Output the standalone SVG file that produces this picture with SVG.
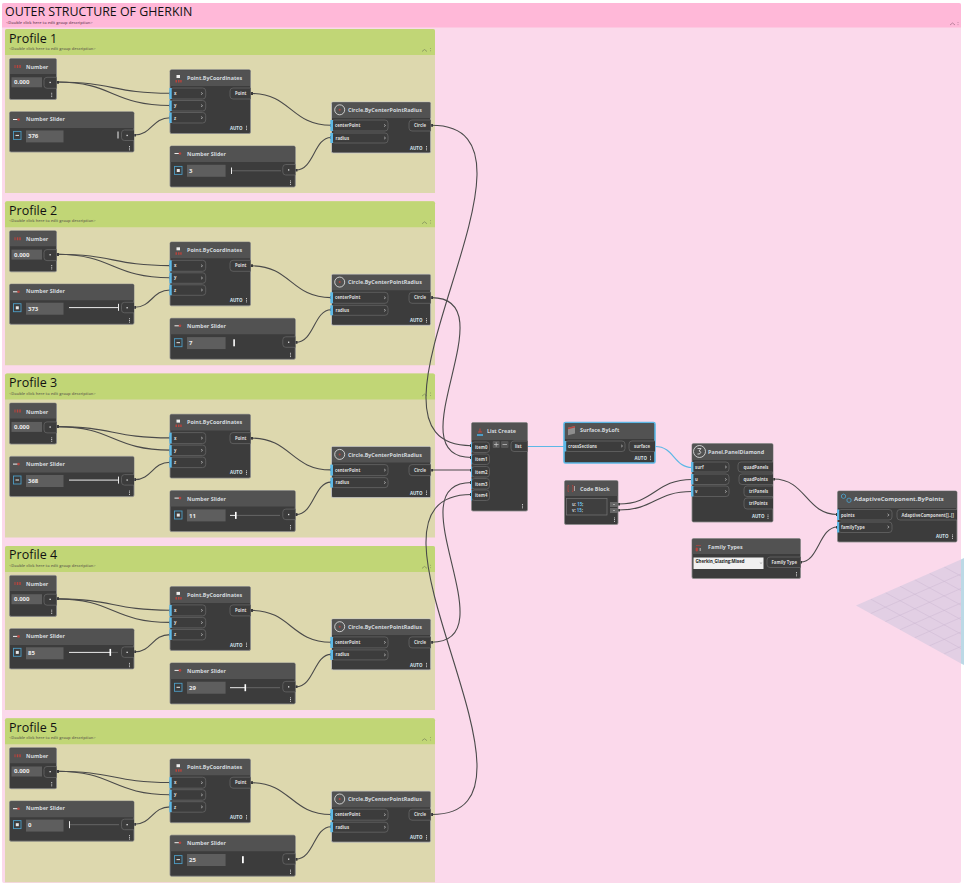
<svg xmlns="http://www.w3.org/2000/svg" xmlns:xlink="http://www.w3.org/1999/xlink" width="964" height="883" viewBox="0 0 964 883">
<style>
text{font-family:"Open Sans","Liberation Sans",sans-serif}
.body{fill:#3c3c3c;stroke:#8c8c8c;stroke-width:.8}
.head{fill:#525252}
.sel{fill:#3c3c3c;stroke:#5cb8e6;stroke-width:1.6}
.pill{fill:#3c3c3c;stroke:#6a6a6a;stroke-width:.7}
.bar{fill:#5cb8e6}
.chev{fill:none;stroke:#cfcfcf;stroke-width:.6}
.grip{stroke:#d8d8d8;stroke-width:1;stroke-dasharray:.9 .8;fill:none}
.wire{fill:none;stroke:#4a4a4a;stroke-width:1.1;marker-start:url(#dot);marker-end:url(#dot)}
.wireb{fill:none;stroke:#5cb8e6;stroke-width:1.2}
.t{fill:#d4d9de;font-size:5.4px;font-weight:700}
.p{fill:#dcdcdc;font-size:4.3px;font-weight:700}
.a{fill:#d8e4ee;font-size:4.4px;font-weight:700}
.v{fill:#ececec;font-size:6px;font-weight:700}
.box{fill:#5e5e5e}
.mini{fill:none;stroke:#4d9cc4;stroke-width:.9}
.gt{fill:#111;font-size:12.500px}
.gs{fill:#6b6b50;font-size:4px;font-weight:600}
.gi{fill:none;stroke:#6f7a55;stroke-width:.6}
.trk{stroke:#777;stroke-width:.7}
.on{stroke:#fff;stroke-width:.9}
.thumb{fill:#fff}
.dotw{fill:#e6e6e6}
.red{fill:#b5443e}
.icon{fill:none;stroke:#e8e8e8;stroke-width:.8}
</style>
<defs>
<marker id="dot" markerWidth="3" markerHeight="3" refX="1.5" refY="1.5" markerUnits="userSpaceOnUse"><rect width="3" height="3" fill="#3a3a3a"/></marker>
<path id="grip" class="grip" d="M0 0V4.6"/>
<path id="chev" class="chev" d="M0 -1.2L1.6 0L0 1.2"/>
<g id="gbody"><path class="gi" d="M422 51.5l2.5-2 2.5 2M430.5 48v.8M430.5 50.4v.8"/></g>
<g id="b-number">
<rect class="body" x="9.500" y="58.500" width="47" height="41" rx="1.500"/>
<path class="head" d="M10 59H56V74H10Z"/>
<rect class="box" x="11.500" y="77.300" width="30.500" height="10"/>
<path class="pill" d="M56.500 77.300H47a3 3 0 0 0-3 3v5a3 3 0 0 0 3 3H56.500"/>
<rect class="dotw" x="49.500" y="81.800" width="1.300" height="1.300"/>
<use href="#grip" x="51.700" y="92.800"/>
<path class="red" d="M14.500 65h1v3h-1zM16.800 65h1.500v3h-1.500zM19.300 65h1.500v3h-1.500z"/>
</g>
<g id="b-slider1">
<rect class="body" x="9.500" y="111.800" width="124.500" height="40.200" rx="1.500"/>
<path class="head" d="M10 112.300H133.600V128H10Z"/>
<path class="on" d="M13 119.500H19"/><circle class="red" cx="18.500" cy="119.500" r="1.300"/>
<rect class="box" x="26" y="130.400" width="37.500" height="12"/>
<path class="pill" d="M134 130H124.500a3 3 0 0 0-3 3v4.500a3 3 0 0 0 3 3H134"/>
<rect class="dotw" x="126.500" y="134.800" width="1.300" height="1.300"/>
<use href="#grip" x="129.500" y="146"/>
</g>
<g id="b-slider2">
<rect class="body" x="170" y="146" width="125.300" height="41" rx="1.500"/>
<path class="head" d="M170.500 146.500H294.900V162H170.500Z"/>
<path class="on" d="M174.500 153.500H180.500"/><circle class="red" cx="180" cy="153.500" r="1.300"/>
<rect class="box" x="187" y="164.800" width="38.600" height="12"/>
<path class="pill" d="M295.300 164.500H285.800a3 3 0 0 0-3 3v4.500a3 3 0 0 0 3 3H295.300"/>
<rect class="dotw" x="288" y="169.300" width="1.300" height="1.300"/>
<use href="#grip" x="290.500" y="180.500"/>
</g>
<g id="b-point">
<rect class="body" x="170" y="69.700" width="80.500" height="63.800" rx="1.500"/>
<path class="head" d="M170.500 70.200H250V86H170.500Z"/>
<rect x="176.500" y="75" width="3.500" height="3" fill="#eee"/>
<path class="red" d="M175.500 80h1.500v2.500h-1.500zM178 80h1.500v2.500h-1.500zM180.200 80h1.500v2.500h-1.500z"/>
<rect class="pill" x="170" y="88" width="35.700" height="11" rx="3"/><rect class="pill" x="170" y="100.500" width="35.700" height="10.500" rx="3"/><rect class="pill" x="170" y="112.500" width="35.700" height="10.500" rx="3"/>
<rect class="bar" x="169.300" y="88" width="2.400" height="11"/><rect class="bar" x="169.300" y="100.500" width="2.400" height="10.500"/><rect class="bar" x="169.300" y="112.500" width="2.400" height="10.500"/>
<use href="#chev" x="201" y="93.500"/><use href="#chev" x="201" y="105.700"/><use href="#chev" x="201" y="117.700"/>
<path class="pill" d="M250.500 88H233a3 3 0 0 0-3 3v5a3 3 0 0 0 3 3H250.500"/>
<use href="#grip" x="246.500" y="125.800"/>
</g>
<g id="b-circle">
<rect class="body" x="331.500" y="102" width="99.200" height="51" rx="1.500" style="stroke:#c8c8c8"/>
<path class="head" d="M332 102.500H430.300V118H332Z"/>
<circle class="icon" cx="339.700" cy="109.800" r="5"/><circle class="red" cx="339.700" cy="109.800" r="1"/>
<rect class="pill" x="331.500" y="120" width="56.500" height="11" rx="3"/><rect class="pill" x="331.500" y="133" width="56.500" height="10" rx="3"/>
<rect class="bar" x="330.300" y="120" width="2.700" height="11"/><rect class="bar" x="330.300" y="133" width="2.700" height="10"/>
<use href="#chev" x="384" y="125.500"/><use href="#chev" x="384" y="138"/>
<path class="pill" d="M430.700 120H412a3 3 0 0 0-3 3v5a3 3 0 0 0 3 3H430.700"/>
<use href="#grip" x="426.500" y="146"/>
</g>
<g id="wires-profile">
<path class="wire" d="M57.500 82C113 82 113 93.300 170 93.300"/>
<path class="wire" d="M57.500 82C113 82 113 105.500 170 105.500"/>
<path class="wire" d="M134.500 135C152 135 152 117.700 170 117.700"/>
<path class="wire" d="M251.500 93.500C291 93.500 291 125.300 331 125.300"/>
<path class="wire" d="M296 170C314 170 314 137.500 331 137.500"/>
</g>
<clipPath id="surf"><path d="M856 605.500L961 559.500V663.500Z"/></clipPath>
</defs>

<rect width="964" height="883" fill="#fff"/>
<g id="group-outer">
<rect x="2" y="3" width="959" height="880" rx="2" fill="#fbd9eb"/>
<path d="M2 5a2 2 0 0 1 2-2H959a2 2 0 0 1 2 2V27.500H2Z" fill="#ffb8d8"/>
<text x="5" y="16" font-size="12.400" fill="#111">OUTER STRUCTURE OF GHERKIN</text>
<text class="gs" x="6" y="24" style="fill:#7a4a66">&lt;Double click here to edit group description&gt;</text>
<path class="gi" d="M950 25l2.500-2 2.500 2M958 22v.8M958 24.300v.8" style="stroke:#8a5a74"/>
</g>
<g id="group-profile-1">
<path d="M5 31a2 2 0 0 1 2-2H433a2 2 0 0 1 2 2V193H5Z" fill="#ddd8ae"/><path d="M5 31a2 2 0 0 1 2-2H433a2 2 0 0 1 2 2V55H5Z" fill="#c1d676"/>
<text class="gt" x="9" y="42.500">Profile 1</text><text class="gs" x="9" y="50">&lt;Double click here to edit group description&gt;</text><use href="#gbody"/>
</g>
<g id="group-profile-2" transform="translate(0,172.300)">
<path d="M5 31a2 2 0 0 1 2-2H433a2 2 0 0 1 2 2V193H5Z" fill="#ddd8ae"/><path d="M5 31a2 2 0 0 1 2-2H433a2 2 0 0 1 2 2V55H5Z" fill="#c1d676"/>
<text class="gt" x="9" y="42.500">Profile 2</text><text class="gs" x="9" y="50">&lt;Double click here to edit group description&gt;</text><use href="#gbody"/>
</g>
<g id="group-profile-3" transform="translate(0,344.600)">
<path d="M5 31a2 2 0 0 1 2-2H433a2 2 0 0 1 2 2V193H5Z" fill="#ddd8ae"/><path d="M5 31a2 2 0 0 1 2-2H433a2 2 0 0 1 2 2V55H5Z" fill="#c1d676"/>
<text class="gt" x="9" y="42.500">Profile 3</text><text class="gs" x="9" y="50">&lt;Double click here to edit group description&gt;</text><use href="#gbody"/>
</g>
<g id="group-profile-4" transform="translate(0,516.900)">
<path d="M5 31a2 2 0 0 1 2-2H433a2 2 0 0 1 2 2V193H5Z" fill="#ddd8ae"/><path d="M5 31a2 2 0 0 1 2-2H433a2 2 0 0 1 2 2V55H5Z" fill="#c1d676"/>
<text class="gt" x="9" y="42.500">Profile 4</text><text class="gs" x="9" y="50">&lt;Double click here to edit group description&gt;</text><use href="#gbody"/>
</g>
<g id="group-profile-5" transform="translate(0,689.200)">
<path d="M5 31a2 2 0 0 1 2-2H433a2 2 0 0 1 2 2V193H5Z" fill="#ddd8ae"/><path d="M5 31a2 2 0 0 1 2-2H433a2 2 0 0 1 2 2V55H5Z" fill="#c1d676"/>
<text class="gt" x="9" y="42.500">Profile 5</text><text class="gs" x="9" y="50">&lt;Double click here to edit group description&gt;</text><use href="#gbody"/>
</g>

<g id="surface-preview">
<path d="M856 605.500L961 559.500V663.500Z" fill="#e2cfe4"/>
<path d="M961 559.500L964 558V665L961 663.500Z" fill="#bcd9e6"/>
<g clip-path="url(#surf)" fill="none" stroke="#cdb8d3" stroke-width=".5">
<path d="M870.700 613.600l105-46M885.400 621.600l105-46M900.100 629.700l105-46M914.800 637.700l105-46M929.500 645.800l105-46M944.200 653.800l105-46"/>
<path d="M870.700 599.100l105 57.500M885.400 592.600l105 57.500M900.100 586.200l105 57.500M914.800 579.800l105 57.500M929.500 573.300l105 57.500M944.200 566.900l105 57.500"/>
</g>
</g>

<g id="connectors">
<use href="#wires-profile"/>
<use href="#wires-profile" y="172.300"/>
<use href="#wires-profile" y="344.600"/>
<use href="#wires-profile" y="516.900"/>
<use href="#wires-profile" y="689.200"/>
<path class="wire" d="M431.500 125.300C571 125.300 332 445.700 471.500 445.700"/>
<path class="wire" d="M431.500 297.600C510 297.600 393 457.500 471.500 457.500"/>
<path class="wire" d="M431.500 470H471.500"/>
<path class="wire" d="M431.500 642.200C510 642.200 393 482.500 471.500 482.500"/>
<path class="wire" d="M431.500 814.500C571 814.500 332 494.500 471.500 494.500"/>
<path class="wireb" d="M527 446.500H564"/>
<path class="wireb" d="M655.500 446.500C674 446.500 674 467.500 692 467.500"/>
<path class="wire" d="M618.500 504C655 504 655 479.500 692 479.500"/>
<path class="wire" d="M618.500 510C655 510 655 491.500 692 491.500"/>
<path class="wire" d="M773.500 479C806 479 806 514.500 837.500 514.500"/>
<path class="wire" d="M800.500 562C819 562 819 527 837.500 527"/>
</g>

<g id="p1-number"><use href="#b-number"/><text class="t" x="26" y="69">Number</text><text class="v" x="14" y="84.300">0.000</text></g>
<g id="p1-slider-a"><use href="#b-slider1"/><text class="t" x="26" y="121">Number Slider</text><rect class="mini" x="13.500" y="131.400" width="7.500" height="8"/><path class="on" d="M15.500 135.400H19"/><text class="v" x="28" y="138.300">376</text><path class="on" d="M118 131.500V138.500"/></g>
<g id="p1-point"><use href="#b-point"/><text class="t" x="187" y="79.800">Point.ByCoordinates</text><text class="p" x="174" y="95">x</text><text class="p" x="174" y="107">y</text><text class="p" x="174" y="119.500">z</text><text class="p" x="235" y="95">Point</text><text class="a" x="230" y="129.800">AUTO</text></g>
<g id="p1-slider-b"><use href="#b-slider2"/><text class="t" x="187" y="156">Number Slider</text><rect class="mini" x="174.500" y="166.400" width="7.500" height="8"/><rect x="176.800" y="169" width="3" height="3" fill="#e8e8e8"/><text class="v" x="189" y="173">3</text><path class="trk" d="M232 170.800H281"/><path class="on" d="M231.500 167.500V174"/></g>
<g id="p1-circle"><use href="#b-circle"/><text class="t" x="348" y="112">Circle.ByCenterPointRadius</text><text class="p" x="335" y="127">centerPoint</text><text class="p" x="335.500" y="139.500">radius</text><text class="p" x="414" y="127">Circle</text><text class="a" x="410" y="150">AUTO</text></g>

<g id="p2-number" transform="translate(0,172.300)"><use href="#b-number"/><text class="t" x="26" y="69">Number</text><text class="v" x="14" y="84.300">0.000</text></g>
<g id="p2-slider-a" transform="translate(0,172.300)"><use href="#b-slider1"/><text class="t" x="26" y="121">Number Slider</text><rect class="mini" x="13.500" y="131.400" width="7.500" height="8"/><rect x="15.800" y="134" width="3" height="3" fill="#e8e8e8"/><text class="v" x="28" y="138.300">373</text><path class="on" d="M69 135.300H118"/><path class="on" d="M118.500 131.500V138.500"/></g>
<g id="p2-point" transform="translate(0,172.300)"><use href="#b-point"/><text class="t" x="187" y="79.800">Point.ByCoordinates</text><text class="p" x="174" y="95">x</text><text class="p" x="174" y="107">y</text><text class="p" x="174" y="119.500">z</text><text class="p" x="235" y="95">Point</text><text class="a" x="230" y="129.800">AUTO</text></g>
<g id="p2-slider-b" transform="translate(0,172.300)"><use href="#b-slider2"/><text class="t" x="187" y="156">Number Slider</text><rect class="mini" x="174.500" y="166.400" width="7.500" height="8"/><path class="on" d="M176.500 170.400H180"/><text class="v" x="189" y="173">7</text><rect class="thumb" x="233.300" y="167" width="1.600" height="7"/></g>
<g id="p2-circle" transform="translate(0,172.300)"><use href="#b-circle"/><text class="t" x="348" y="112">Circle.ByCenterPointRadius</text><text class="p" x="335" y="127">centerPoint</text><text class="p" x="335.500" y="139.500">radius</text><text class="p" x="414" y="127">Circle</text><text class="a" x="410" y="150">AUTO</text></g>

<g id="p3-number" transform="translate(0,344.600)"><use href="#b-number"/><text class="t" x="26" y="69">Number</text><text class="v" x="14" y="84.300">0.000</text></g>
<g id="p3-slider-a" transform="translate(0,344.600)"><use href="#b-slider1"/><text class="t" x="26" y="121">Number Slider</text><rect class="mini" x="13.500" y="131.400" width="7.500" height="8"/><path class="on" d="M15.500 135.400H19"/><text class="v" x="28" y="138.300">368</text><path class="on" d="M69 135.500H118"/><path class="on" d="M118.500 132V139"/></g>
<g id="p3-point" transform="translate(0,344.600)"><use href="#b-point"/><text class="t" x="187" y="79.800">Point.ByCoordinates</text><text class="p" x="174" y="95">x</text><text class="p" x="174" y="107">y</text><text class="p" x="174" y="119.500">z</text><text class="p" x="235" y="95">Point</text><text class="a" x="230" y="129.800">AUTO</text></g>
<g id="p3-slider-b" transform="translate(0,344.600)"><use href="#b-slider2"/><text class="t" x="187" y="156">Number Slider</text><rect class="mini" x="174.500" y="166.400" width="7.500" height="8"/><rect x="176.800" y="169" width="3" height="3" fill="#e8e8e8"/><text class="v" x="189" y="173">11</text><path class="on" d="M230 170.800H236"/><path class="trk" d="M236 170.800H280"/><rect class="thumb" x="235" y="167.300" width="1.600" height="7"/></g>
<g id="p3-circle" transform="translate(0,344.600)"><use href="#b-circle"/><text class="t" x="348" y="112">Circle.ByCenterPointRadius</text><text class="p" x="335" y="127">centerPoint</text><text class="p" x="335.500" y="139.500">radius</text><text class="p" x="414" y="127">Circle</text><text class="a" x="410" y="150">AUTO</text></g>

<g id="p4-number" transform="translate(0,516.900)"><use href="#b-number"/><text class="t" x="26" y="69">Number</text><text class="v" x="14" y="84.300">0.000</text></g>
<g id="p4-slider-a" transform="translate(0,516.900)"><use href="#b-slider1"/><text class="t" x="26" y="121">Number Slider</text><rect class="mini" x="13.500" y="131.400" width="7.500" height="8"/><rect x="15.800" y="134" width="3" height="3" fill="#e8e8e8"/><text class="v" x="28" y="138.300">85</text><path class="on" d="M69 135.500H110"/><path class="trk" d="M110 135.500H118"/><rect class="thumb" x="109.500" y="132" width="1.600" height="7"/></g>
<g id="p4-point" transform="translate(0,516.900)"><use href="#b-point"/><text class="t" x="187" y="79.800">Point.ByCoordinates</text><text class="p" x="174" y="95">x</text><text class="p" x="174" y="107">y</text><text class="p" x="174" y="119.500">z</text><text class="p" x="235" y="95">Point</text><text class="a" x="230" y="129.800">AUTO</text></g>
<g id="p4-slider-b" transform="translate(0,516.900)"><use href="#b-slider2"/><text class="t" x="187" y="156">Number Slider</text><rect class="mini" x="174.500" y="166.400" width="7.500" height="8"/><path class="on" d="M176.500 170.400H180"/><text class="v" x="189" y="173">29</text><path class="on" d="M230 170.800H245"/><path class="trk" d="M245 170.800H280"/><rect class="thumb" x="244.500" y="167.300" width="1.600" height="7"/></g>
<g id="p4-circle" transform="translate(0,516.900)"><use href="#b-circle"/><text class="t" x="348" y="112">Circle.ByCenterPointRadius</text><text class="p" x="335" y="127">centerPoint</text><text class="p" x="335.500" y="139.500">radius</text><text class="p" x="414" y="127">Circle</text><text class="a" x="410" y="150">AUTO</text></g>

<g id="p5-number" transform="translate(0,689.200)"><use href="#b-number"/><text class="t" x="26" y="69">Number</text><text class="v" x="14" y="84.300">0.000</text></g>
<g id="p5-slider-a" transform="translate(0,689.200)"><use href="#b-slider1"/><text class="t" x="26" y="121">Number Slider</text><rect class="mini" x="13.500" y="131.400" width="7.500" height="8"/><rect x="15.800" y="134" width="3" height="3" fill="#e8e8e8"/><text class="v" x="28" y="138.300">0</text><path class="trk" d="M70 135.500H119"/><path class="on" d="M69.500 132V139"/></g>
<g id="p5-point" transform="translate(0,689.200)"><use href="#b-point"/><text class="t" x="187" y="79.800">Point.ByCoordinates</text><text class="p" x="174" y="95">x</text><text class="p" x="174" y="107">y</text><text class="p" x="174" y="119.500">z</text><text class="p" x="235" y="95">Point</text><text class="a" x="230" y="129.800">AUTO</text></g>
<g id="p5-slider-b" transform="translate(0,689.200)"><use href="#b-slider2"/><text class="t" x="187" y="156">Number Slider</text><rect class="mini" x="174.500" y="166.400" width="7.500" height="8"/><path class="on" d="M176.500 170.400H180"/><text class="v" x="189" y="173">25</text><rect class="thumb" x="242" y="167" width="1.800" height="7"/></g>
<g id="p5-circle" transform="translate(0,689.200)"><use href="#b-circle"/><text class="t" x="348" y="112">Circle.ByCenterPointRadius</text><text class="p" x="335" y="127">centerPoint</text><text class="p" x="335.500" y="139.500">radius</text><text class="p" x="414" y="127">Circle</text><text class="a" x="410" y="150">AUTO</text></g>

<g id="list-create">
<rect class="body" x="471.500" y="422.500" width="56" height="88.500" rx="1.500"/>
<path class="head" d="M472 423H527V440H472Z"/>
<path d="M478 431.500h1.500v-3h1v3h1.500v1h-4z" fill="#c0453d"/><rect x="477" y="434" width="6" height="2" fill="#4d9cc4"/>
<text class="t" x="487" y="432.500">List Create</text>
<rect class="pill" x="471.500" y="442" width="18" height="10.500" rx="3"/><rect class="pill" x="471.500" y="454" width="18" height="10.500" rx="3"/><rect class="pill" x="471.500" y="466.500" width="18" height="10.500" rx="3"/><rect class="pill" x="471.500" y="478.500" width="18" height="10.500" rx="3"/><rect class="pill" x="471.500" y="490" width="18" height="10.500" rx="3"/>
<path class="bar" d="M471 442h1v10.500h-1zM471 454h1v10.500h-1zM471 466.500h1v10.500h-1zM471 478.500h1v10.500h-1zM471 490h1v10.500h-1z"/>
<text class="p" x="475" y="449">item0</text><text class="p" x="475" y="461">item1</text><text class="p" x="475" y="473.500">item2</text><text class="p" x="475" y="485.500">item3</text><text class="p" x="475" y="497">item4</text>
<rect x="492.700" y="441" width="7" height="7" rx="1" fill="#5a5a5a"/><rect x="501" y="441" width="7.500" height="7" rx="1" fill="#555"/>
<path d="M494 444.500h4.500M496.200 442.300v4.400M502.500 444.500h4.500" stroke="#ccc" stroke-width=".7"/>
<path class="pill" d="M527.500 441H514a3 3 0 0 0-3 3v4.500a3 3 0 0 0 3 3H527.500"/>
<text class="p" x="515" y="448.300">list</text>
<use href="#grip" x="522.500" y="504"/>
</g>

<g id="surface-byloft">
<rect class="sel" x="564" y="422.500" width="91" height="40.500" rx="1.500"/>
<path class="head" d="M565 423.500H654V439H565Z"/>
<path d="M568 427.800l7-1.800v7.500l-7 1.800Z" fill="#8e8e8e"/><path d="M568 427.800l7-1.800v1.500l-7 1.800Z" fill="#b5443e"/>
<text class="t" x="580" y="432">Surface.ByLoft</text>
<rect class="pill" x="565" y="441" width="60" height="10.500" rx="3"/><rect class="bar" x="564" y="441" width="2.200" height="10.500"/>
<use href="#chev" x="621" y="446"/>
<text class="p" x="568" y="447.800">crossSections</text>
<path class="pill" d="M655 441H632a3 3 0 0 0-3 3v4.500a3 3 0 0 0 3 3H655"/>
<text class="p" x="634" y="447.800">surface</text>
<text class="a" x="634.500" y="459.500">AUTO</text><use href="#grip" x="650.500" y="455.800"/>
</g>

<g id="code-block">
<rect class="body" x="564.500" y="480.500" width="53.500" height="44" rx="1.500"/>
<path class="head" d="M565 481H617.500V496H565Z"/>
<path d="M569 485.500h-1v6h1M572 485.500h1v6h-1" fill="none" stroke="#b5443e" stroke-width=".8"/><path d="M574.500 486v5" stroke="#ccc" stroke-width=".7"/>
<text class="t" x="580" y="490.500">Code Block</text>
<rect x="566.500" y="498.500" width="40.500" height="16.500" fill="#3f3f3f" stroke="#777" stroke-width=".7"/>
<text class="p" x="572" y="505.500" xml:space="preserve" style="fill:#cfcfcf">u: <tspan fill="#62b8ec">15</tspan>;</text>
<text class="p" x="572" y="511.500" xml:space="preserve" style="fill:#cfcfcf">v: <tspan fill="#62b8ec">15</tspan>;</text>
<rect x="610" y="502" width="8" height="5" fill="#666"/><rect x="610" y="508" width="8" height="5" fill="#666"/>
<rect class="dotw" x="613.500" y="504" width="1" height="1"/><rect class="dotw" x="613.500" y="510" width="1" height="1"/>
<use href="#grip" x="614.500" y="517.500"/>
</g>

<g id="panel-diamond">
<rect class="body" x="692" y="443.500" width="81" height="78.500" rx="1.500"/>
<path class="head" d="M692.500 444H772.500V460H692.500Z"/>
<circle class="icon" cx="699.500" cy="451.500" r="6"/><path class="icon" d="M697.500 448.500h3.500l-2 2.500c2.500 0 2.500 3.500-1.500 3"/>
<text class="t" x="708" y="453.500">Panel.PanelDiamond</text>
<rect class="pill" x="692" y="462" width="37" height="10" rx="3"/><rect class="pill" x="692" y="474" width="37" height="10.500" rx="3"/><rect class="pill" x="692" y="486" width="37" height="10.500" rx="3"/>
<rect class="bar" x="691" y="462" width="2.400" height="10"/><rect class="bar" x="691" y="474" width="2.400" height="10.500"/><rect class="bar" x="691" y="486" width="2.400" height="10.500"/>
<use href="#chev" x="725" y="467"/><use href="#chev" x="725" y="479.500"/><use href="#chev" x="725" y="491.500"/>
<text class="p" x="695" y="468.500">surf</text><text class="p" x="695" y="480.500">u</text><text class="p" x="695" y="492.500">v</text>
<path class="pill" d="M773 462H741a3 3 0 0 0-3 3v4a3 3 0 0 0 3 3H773"/><path class="pill" d="M773 474H742a3 3 0 0 0-3 3v4.500a3 3 0 0 0 3 3H773"/><path class="pill" d="M773 486H747a3 3 0 0 0-3 3v4.500a3 3 0 0 0 3 3H773"/><path class="pill" d="M773 498H747a3 3 0 0 0-3 3v5a3 3 0 0 0 3 3H773"/>
<text class="p" x="743.500" y="468.500">quadPanels</text><text class="p" x="743.500" y="480.500">quadPoints</text><text class="p" x="749" y="492.500">triPanels</text><text class="p" x="749" y="505">triPoints</text>
<text class="a" x="752" y="518">AUTO</text><use href="#grip" x="768" y="514.500"/>
</g>

<g id="family-types">
<rect class="body" x="692" y="538.500" width="108.500" height="40" rx="1.500"/>
<path class="head" d="M692.500 539H800V554H692.500Z"/>
<path d="M696 545.500h5M696 548h1.500v3h-1.500z" stroke="#b5443e" fill="#b5443e" stroke-width=".7"/><path d="M699.500 548h1.500v3h-1.500z" fill="#999"/>
<text class="t" x="708" y="548.500">Family Types</text>
<rect x="693.500" y="557.500" width="70" height="11.500" fill="#f0f0f0"/>
<text x="695.500" y="562.800" style="fill:#222;font-size:4.300px;font-weight:700">Gherkin_Glazing:Mixed</text>
<path d="M759.800 562.500l1.200 1 1.200-1" fill="none" stroke="#888" stroke-width=".6"/>
<path class="pill" d="M800.500 557H770a3 3 0 0 0-3 3v4.500a3 3 0 0 0 3 3H800.500"/>
<text class="p" x="771.500" y="563.800">Family Type</text>
<use href="#grip" x="796.500" y="572"/>
</g>

<g id="adaptive-component">
<rect class="body" x="837.500" y="491" width="119.500" height="51" rx="1.500"/>
<path class="head" d="M838 491.500H956.500V508H838Z"/>
<path d="M841.500 495l2-1 2 1v2.500l-2 1-2-1zM847 499l2-1 2 1v2.500l-2 1-2-1z" fill="none" stroke="#4d9cc4" stroke-width=".9"/>
<text class="t" x="854" y="501" style="font-size:6px">AdaptiveComponent.ByPoints</text>
<rect class="pill" x="838" y="509.500" width="54" height="10.500" rx="3"/><rect class="pill" x="838" y="522" width="54" height="10.500" rx="3"/>
<rect class="bar" x="837" y="509.500" width="2.200" height="10.500"/><rect class="bar" x="837" y="522" width="2.200" height="10.500"/>
<use href="#chev" x="887.500" y="515"/><use href="#chev" x="887.500" y="527"/>
<text class="p" x="841" y="516.500">points</text><text class="p" x="841" y="528.500">familyType</text>
<path class="pill" d="M957 509.500H900a3 3 0 0 0-3 3v4.500a3 3 0 0 0 3 3H957"/>
<text class="p" x="901.500" y="516.500">AdaptiveComponent[]..[]</text>
<text class="a" x="936" y="538">AUTO</text><use href="#grip" x="952.500" y="534.500"/>
</g>
</svg>
